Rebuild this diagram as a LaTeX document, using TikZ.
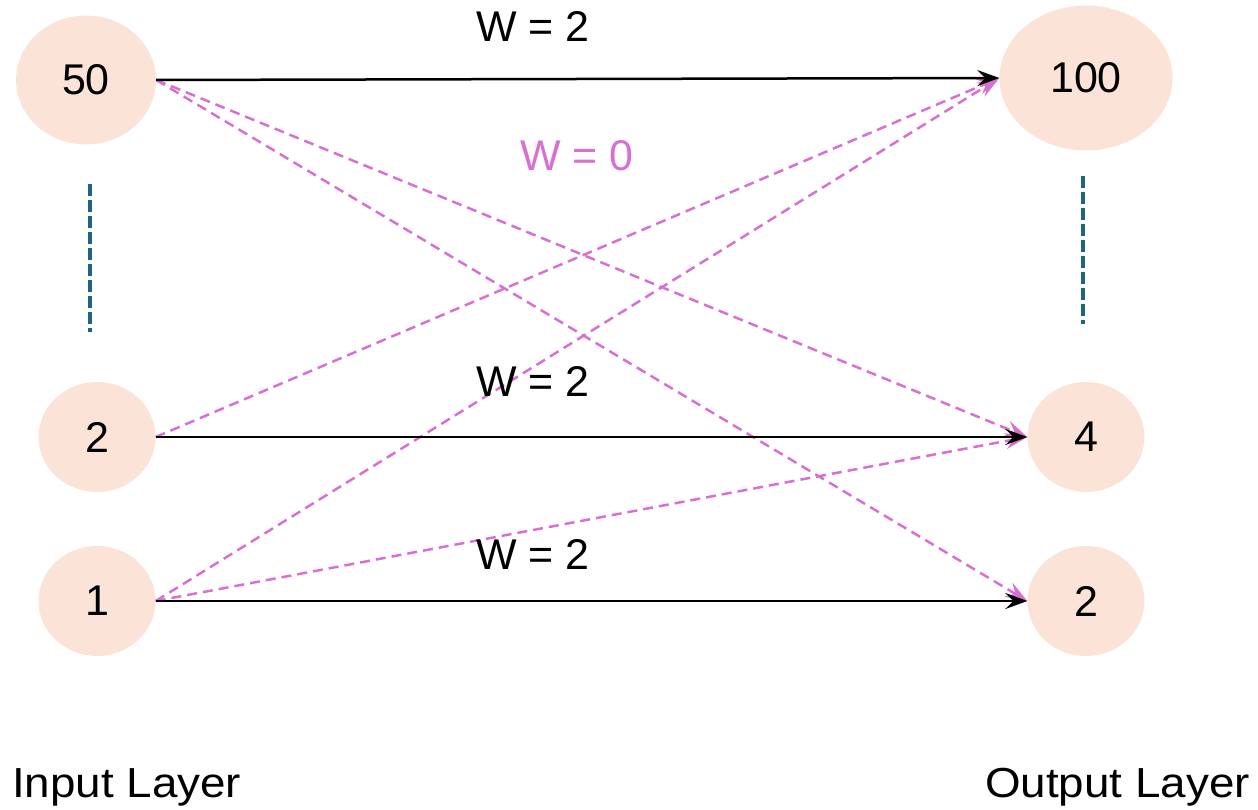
\documentclass[tikz,border=0pt]{standalone}
\usepackage{fontspec}
\setmainfont{Liberation Sans}
\usetikzlibrary{arrows.meta,shapes.geometric}
\definecolor{peach}{RGB}{251,228,215}
\definecolor{orch}{RGB}{216,112,210}
\definecolor{tealc}{RGB}{30,100,132}
\tikzset{
  neuron/.style={ellipse,fill=peach,draw=none,inner sep=0pt,font=\fontsize{43}{43}\selectfont},
  solidw/.style={draw=black,line width=2.5pt,-{Stealth[length=22pt,width=16pt,inset=8pt]}},
  zerow/.style={draw=orch,line width=2.5pt,dash pattern=on 10pt off 6pt,-{Stealth[length=22pt,width=16pt,inset=8pt]}},
  dots/.style={draw=tealc,line width=4pt,dash pattern=on 12pt off 4pt},
  wlabel/.style={font=\fontsize{43}{43}\selectfont,inner sep=0pt},
  layerlabel/.style={font=\fontsize{42}{42}\selectfont,inner sep=0pt}
}
\begin{document}
\begin{tikzpicture}[x=1pt,y=-1pt]
\useasboundingbox (0,0) rectangle (1258,810);
\node[neuron,minimum width=140pt,minimum height=129pt] (i50) at (86,80) {50};
\node[neuron,minimum width=117pt,minimum height=110pt] (i2) at (97,437) {2};
\node[neuron,minimum width=117pt,minimum height=110pt] (i1) at (97,601) {1};
\node[neuron,minimum width=173pt,minimum height=145pt] (o100) at (1086,78) {100};
\node[neuron,minimum width=117pt,minimum height=110pt] (o4) at (1086,437) {4};
\node[neuron,minimum width=117pt,minimum height=110pt] (o2) at (1086,601) {2};

\coordinate (lt) at (90,184);
\coordinate (lb) at (90,332);
\coordinate (rt) at (1083,176);
\coordinate (rb) at (1083,324);
\draw[dots] (lt) -- (lb);
\draw[dots] (rt) -- (rb);

\draw[zerow] (i50.east) -- (o4.west);
\draw[zerow] (i50.east) -- (o2.west);
\draw[zerow] (i2.east) -- (o100.west);
\draw[zerow] (i1.east) -- (o100.west);
\draw[zerow] (i1.east) -- (o4.west);
\draw[solidw] (i50.east) -- (o100.west);
\draw[solidw] (i2.east) -- (o4.west);
\draw[solidw] (i1.east) -- (o2.west);

\node[wlabel] (w1) at (533,26) {W = 2};
\node[wlabel,text=orch] (w0) at (577,156) {W = 0};
\node[wlabel] (w2) at (533,381) {W = 2};
\node[wlabel] (w3) at (533,554) {W = 2};

\node[layerlabel,anchor=base west] (inl) at (12,797) {\scalebox{1.09}[1]{Input Layer}};
\node[layerlabel,anchor=base east] (outl) at (1250,797) {\scalebox{1.09}[1]{Output Layer}};
\end{tikzpicture}
\end{document}
